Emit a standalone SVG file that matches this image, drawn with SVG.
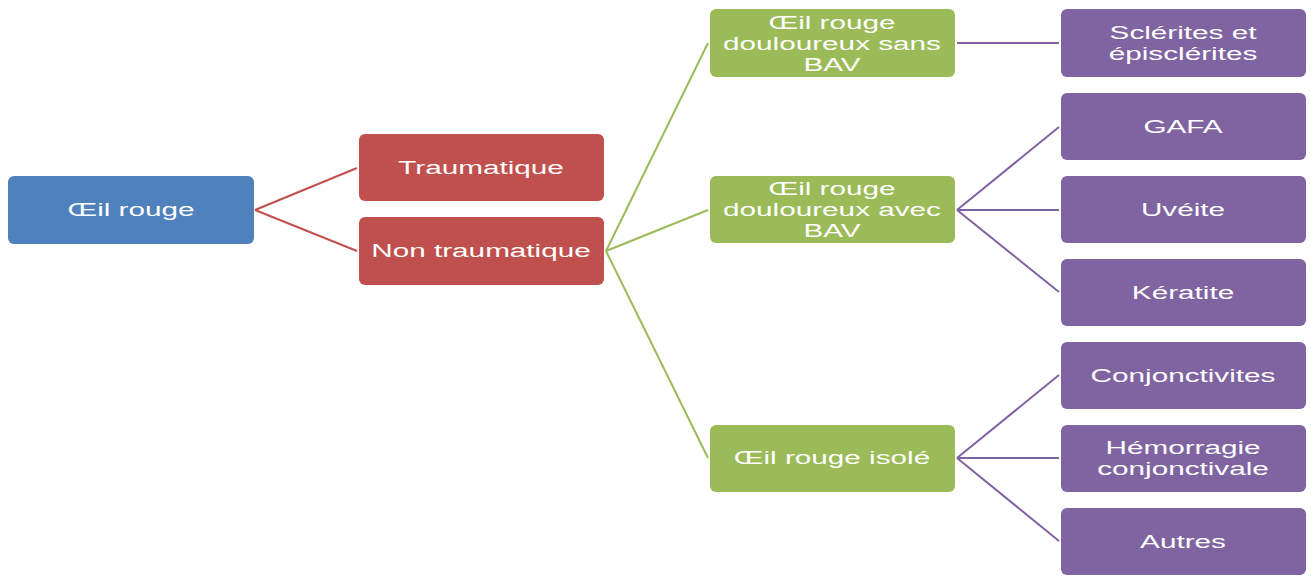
<svg xmlns="http://www.w3.org/2000/svg" width="1311" height="576" viewBox="0 0 1311 576">
<style>
.box{stroke:none}
.b{fill:#4F81BD}.r{fill:#C0504D}.g{fill:#9BBB59}.p{fill:#8064A2}
.t{font-family:"Liberation Sans",Arial,sans-serif;font-size:18px;fill:#ffffff;text-anchor:middle}
.cr{stroke:#C0504D;stroke-width:2;fill:none}
.cg{stroke:#9BBB59;stroke-width:2;fill:none}
.cp{stroke:#8064A2;stroke-width:2;fill:none}
</style>
<rect width="1311" height="576" fill="#ffffff"/>
<g id="connectors">
<line class="cr" x1="255" y1="210" x2="357" y2="168"/>
<line class="cr" x1="255" y1="210" x2="357" y2="251"/>
<line class="cg" x1="606" y1="251" x2="708" y2="43"/>
<line class="cg" x1="606" y1="251" x2="708" y2="210"/>
<line class="cg" x1="606" y1="251" x2="708" y2="458"/>
<line class="cp" x1="957" y1="43" x2="1059" y2="43"/>
<line class="cp" x1="957" y1="210" x2="1059" y2="127"/>
<line class="cp" x1="957" y1="210" x2="1059" y2="210"/>
<line class="cp" x1="957" y1="210" x2="1059" y2="292"/>
<line class="cp" x1="957" y1="458" x2="1059" y2="375"/>
<line class="cp" x1="957" y1="458" x2="1059" y2="458"/>
<line class="cp" x1="957" y1="458" x2="1059" y2="541"/>
</g>
<g id="n-oeil-rouge">
<rect class="box b" x="8" y="176" width="246" height="68" rx="6"/>
<text class="t" transform="translate(131,216) scale(1.65,1)">Œil rouge</text>
</g>
<g id="n-traumatique">
<rect class="box r" x="359" y="134" width="245" height="67" rx="6"/>
<text class="t" transform="translate(481,174) scale(1.65,1)">Traumatique</text>
</g>
<g id="n-non-traumatique">
<rect class="box r" x="359" y="217" width="245" height="68" rx="6"/>
<text class="t" transform="translate(481,257) scale(1.65,1)">Non traumatique</text>
</g>
<g id="n-sans-bav">
<rect class="box g" x="710" y="9" width="245" height="68" rx="6"/>
<text class="t" transform="translate(832,29) scale(1.65,1)">Œil rouge</text>
<text class="t" transform="translate(832,50) scale(1.65,1)">douloureux sans</text>
<text class="t" transform="translate(832,71) scale(1.65,1)">BAV</text>
</g>
<g id="n-avec-bav">
<rect class="box g" x="710" y="176" width="245" height="67" rx="6"/>
<text class="t" transform="translate(832,195) scale(1.65,1)">Œil rouge</text>
<text class="t" transform="translate(832,216) scale(1.65,1)">douloureux avec</text>
<text class="t" transform="translate(832,237) scale(1.65,1)">BAV</text>
</g>
<g id="n-isole">
<rect class="box g" x="710" y="425" width="245" height="67" rx="6"/>
<text class="t" transform="translate(832,464) scale(1.65,1)">Œil rouge isolé</text>
</g>
<g id="n-sclerites">
<rect class="box p" x="1061" y="9" width="245" height="68" rx="6"/>
<text class="t" transform="translate(1183,39) scale(1.65,1)">Sclérites et</text>
<text class="t" transform="translate(1183,60) scale(1.65,1)">épisclérites</text>
</g>
<g id="n-gafa">
<rect class="box p" x="1061" y="93" width="245" height="67" rx="6"/>
<text class="t" transform="translate(1183,133) scale(1.65,1)">GAFA</text>
</g>
<g id="n-uveite">
<rect class="box p" x="1061" y="176" width="245" height="67" rx="6"/>
<text class="t" transform="translate(1183,216) scale(1.65,1)">Uvéite</text>
</g>
<g id="n-keratite">
<rect class="box p" x="1061" y="259" width="245" height="67" rx="6"/>
<text class="t" transform="translate(1183,299) scale(1.65,1)">Kératite</text>
</g>
<g id="n-conjonctivites">
<rect class="box p" x="1061" y="342" width="245" height="67" rx="6"/>
<text class="t" transform="translate(1183,382) scale(1.65,1)">Conjonctivites</text>
</g>
<g id="n-hemorragie">
<rect class="box p" x="1061" y="425" width="245" height="67" rx="6"/>
<text class="t" transform="translate(1183,454) scale(1.65,1)">Hémorragie</text>
<text class="t" transform="translate(1183,475) scale(1.65,1)">conjonctivale</text>
</g>
<g id="n-autres">
<rect class="box p" x="1061" y="508" width="245" height="67" rx="6"/>
<text class="t" transform="translate(1183,548) scale(1.65,1)">Autres</text>
</g>
</svg>
